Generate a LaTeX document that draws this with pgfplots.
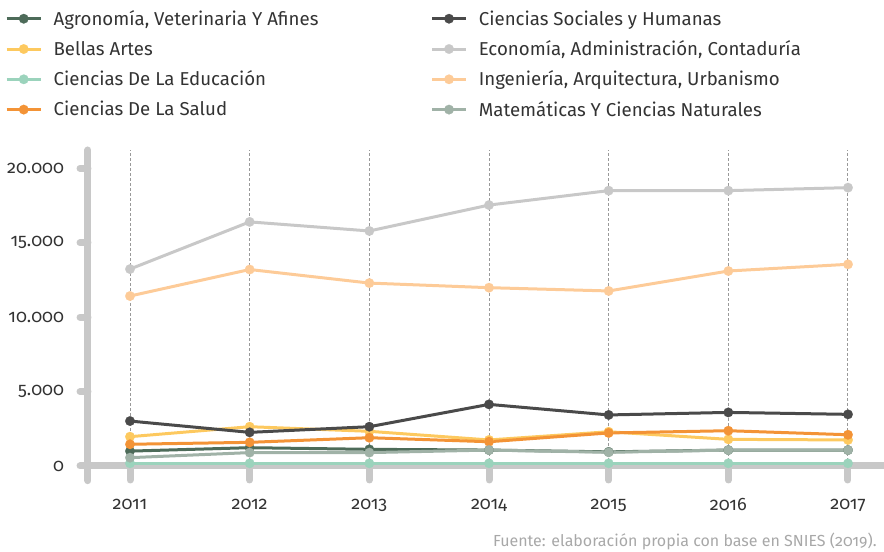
\documentclass[border=0pt]{standalone}
\usepackage{fontspec}
\setmainfont{Fira Sans}[Numbers=OldStyle]
\usepackage{pgfplots}
\pgfplotsset{compat=1.18}

\definecolor{cAgro}{HTML}{4D6B59}
\definecolor{cBellas}{HTML}{FDC95F}
\definecolor{cEdu}{HTML}{9BD3BC}
\definecolor{cSalud}{HTML}{F39336}
\definecolor{cSoc}{HTML}{4A4A4A}
\definecolor{cEco}{HTML}{C8C8C8}
\definecolor{cIng}{HTML}{FDCB98}
\definecolor{cMat}{HTML}{A0B2A7}
\definecolor{axisgray}{HTML}{C8C8C8}
\definecolor{gridgray}{HTML}{999999}
\definecolor{txt}{HTML}{333333}
\definecolor{srcgray}{HTML}{A8A8A8}

\pgfplotsset{
  serie/.style={color=#1, line width=2.25pt, mark=*, mark size=3.6pt,
    mark options={solid, line width=0.1pt, fill=#1}},
}

\begin{document}
\begin{tikzpicture}
\path[use as bounding box] (-66pt,-64.5pt) rectangle (597pt,349.5pt);
\begin{axis}[
  scale only axis,
  width=597pt, height=237pt,
  xmin=2010.649, xmax=2017.301,
  ymin=0, ymax=21230,
  clip=false,
  axis line style={draw=none},
  xtick={2011,2012,2013,2014,2015,2016,2017},
  xticklabels={2011,2012,2013,2014,2015,2016,2017},
  ytick={0,5000,10000,15000,20000},
  scaled y ticks=false,
  /pgf/number format/.cd, 1000 sep={.}, assume math mode=true, /pgfplots/.cd,
  tick align=outside,
  xtick pos=bottom, ytick pos=left,
  major tick length=6pt,
  ytick style={draw=axisgray, line width=5.25pt, line cap=round},
  xtick style={draw=none},
  xmajorgrids,
  major x grid style={draw=gridgray, line width=0.75pt, dash pattern=on 2.25pt off 1.5pt},
  ticklabel style={font=\fontsize{13.5}{15}\selectfont, text=txt},
  yticklabel style={xshift=-8.5pt},
  xticklabel style={yshift=-15pt},
  legend columns=2,
  legend cell align=left,
  legend image code/.code={
    \draw[mark repeat=2, mark phase=2, #1] plot coordinates {(0pt,0pt) (12.75pt,0pt) (25.5pt,0pt)};
  },
  legend style={
    at={(axis description cs:-0.1043,1.4515)}, anchor=north west,
    draw=none, fill=none, inner sep=0pt,
    font=\fontsize{14}{16}\selectfont, text=txt,
    row sep=6pt,
    /tikz/every odd column/.append style={column sep=6.5pt},
    /tikz/every even column/.append style={column sep=82pt},
  },
]
% axis lines
\draw[axisgray, line width=5.25pt, line cap=round]
  (axis cs:2010.649,21230) -- ([yshift=-11pt]axis cs:2010.649,0);
\draw[axisgray, line width=5.25pt]
  (axis cs:2010.649,0) -- (axis cs:2017.301,0);
\pgfplotsinvokeforeach{2011,2012,2013,2014,2015,2016,2017}{
  \draw[axisgray, line width=5.25pt, line cap=round]
    (axis cs:#1,0) -- ([yshift=-10.5pt]axis cs:#1,0);
}

% legend, filled row by row
\addlegendimage{serie=cAgro}   \addlegendentry{Agronomía, Veterinaria Y Afines}
\addlegendimage{serie=cSoc}    \addlegendentry{Ciencias Sociales y Humanas}
\addlegendimage{serie=cBellas} \addlegendentry{Bellas Artes}
\addlegendimage{serie=cEco}    \addlegendentry{Economía, Administración, Contaduría}
\addlegendimage{serie=cEdu}    \addlegendentry{Ciencias De La Educación}
\addlegendimage{serie=cIng}    \addlegendentry{Ingeniería, Arquitectura, Urbanismo}
\addlegendimage{serie=cSalud}  \addlegendentry{Ciencias De La Salud}
\addlegendimage{serie=cMat}    \addlegendentry{Matemáticas Y Ciencias Naturales}

% data
\addplot[serie=cAgro, forget plot] coordinates {
  (2011,1000) (2012,1230) (2013,1120) (2014,1070) (2015,950) (2016,1070) (2017,1070)};
\addplot[serie=cBellas, forget plot] coordinates {
  (2011,1970) (2012,2640) (2013,2330) (2014,1750) (2015,2300) (2016,1790) (2017,1750)};
\addplot[serie=cEdu, forget plot] coordinates {
  (2011,180) (2012,180) (2013,180) (2014,180) (2015,180) (2016,180) (2017,180)};
\addplot[serie=cSalud, forget plot] coordinates {
  (2011,1460) (2012,1590) (2013,1900) (2014,1630) (2015,2220) (2016,2370) (2017,2100)};
\addplot[serie=cSoc, forget plot] coordinates {
  (2011,3020) (2012,2260) (2013,2640) (2014,4140) (2015,3430) (2016,3600) (2017,3470)};
\addplot[serie=cEco, forget plot] coordinates {
  (2011,13230) (2012,16400) (2013,15790) (2014,17530) (2015,18500) (2016,18500) (2017,18700)};
\addplot[serie=cIng, forget plot] coordinates {
  (2011,11420) (2012,13200) (2013,12290) (2014,11980) (2015,11760) (2016,13100) (2017,13550)};
\addplot[serie=cMat, forget plot] coordinates {
  (2011,560) (2012,900) (2013,900) (2014,1070) (2015,920) (2016,1070) (2017,1070)};

\node[anchor=base east, font=\fontsize{12}{14}\selectfont, text=srcgray]
  at ([xshift=-2pt,yshift=-60.5pt]rel axis cs:1,0)
  {Fuente: elaboración propia con base en SNIES (2019).};
\end{axis}
\end{tikzpicture}
\end{document}
